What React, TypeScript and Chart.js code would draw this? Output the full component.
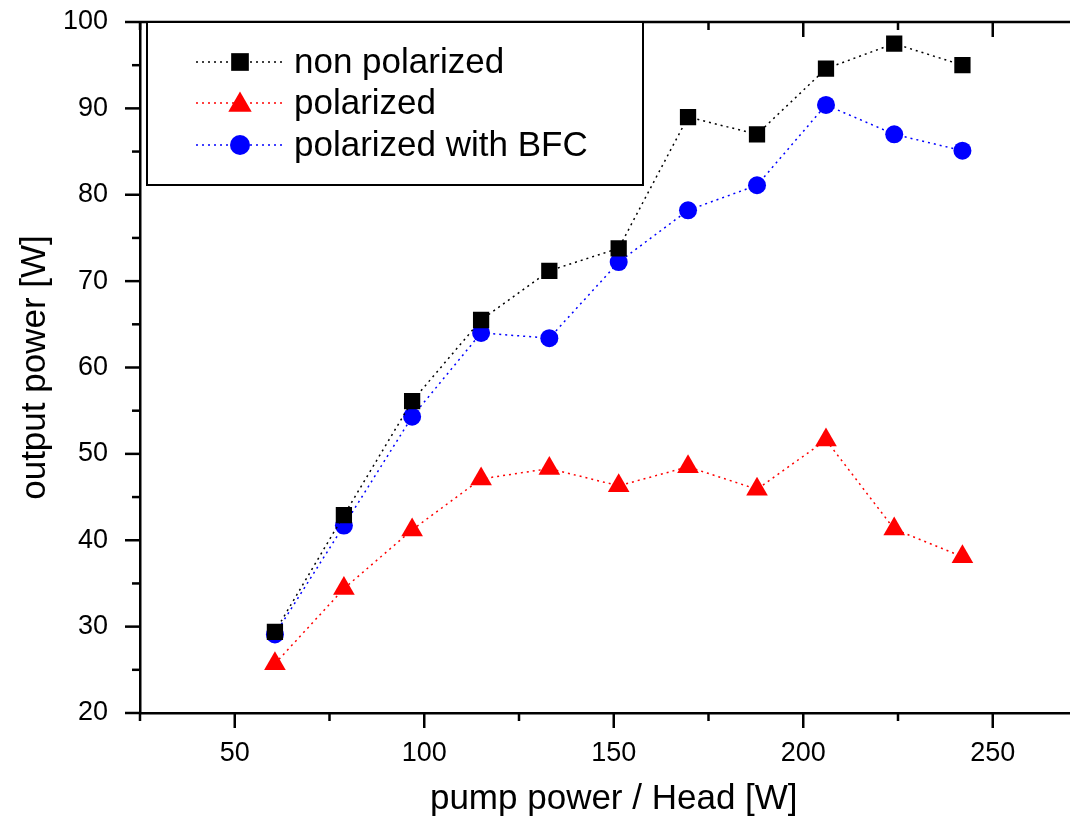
import React, { useEffect, useRef } from "react";
import { Chart, registerables } from "chart.js";
import { drawPoint } from "chart.js/helpers";

Chart.register(...registerables);

const pumpPower = [60.6, 78.8, 96.8, 115, 133, 151.3, 169.6, 187.8, 206, 224, 242];
const nonPolarized = [29.4, 42.9, 56.1, 65.5, 71.2, 73.8, 89.0, 87.0, 94.6, 97.5, 95.0];
const polarized = [25.7, 34.4, 41.2, 47.1, 48.3, 46.3, 48.5, 45.9, 51.6, 41.3, 38.1];
const polarizedBFC = [29.1, 41.7, 54.3, 64.0, 63.4, 72.2, 78.2, 81.1, 90.4, 87.0, 85.1];

const seriesLabels = ["non polarized", "polarized", "polarized with BFC"];
const xMajorTicks = [50, 100, 150, 200, 250];
const xMinorTicks = [25, 75, 125, 175, 225, 275];
const yMajorTicks = [20, 30, 40, 50, 60, 70, 80, 90, 100];
const yMinorTicks = [25, 35, 45, 55, 65, 75, 85, 95];

const FONT = "'Liberation Sans', Arial, Helvetica, sans-serif";

const axisDecor = {
  id: "axisDecor",
  afterDraw(chart: any) {
    const { ctx, chartArea } = chart;
    const xs = chart.scales.x;
    const ys = chart.scales.y;
    const { left, right, top, bottom } = chartArea;
    ctx.save();
    ctx.strokeStyle = "#000";
    ctx.lineWidth = 2.5;
    ctx.lineCap = "butt";
    ctx.beginPath();
    ctx.moveTo(left, top);
    ctx.lineTo(right, top);
    ctx.stroke();
    const tick = (x1: number, y1: number, x2: number, y2: number) => {
      ctx.beginPath();
      ctx.moveTo(x1, y1);
      ctx.lineTo(x2, y2);
      ctx.stroke();
    };
    xMajorTicks.forEach((v) => {
      const px = xs.getPixelForValue(v);
      tick(px, bottom, px, bottom + 15);
      tick(px, top, px, top + 15);
    });
    xMinorTicks.forEach((v) => {
      const px = xs.getPixelForValue(v);
      tick(px, bottom, px, bottom + 8);
      tick(px, top, px, top + 8);
    });
    yMajorTicks.forEach((v) => {
      const py = ys.getPixelForValue(v);
      tick(left, py, left - 15, py);
    });
    yMinorTicks.forEach((v) => {
      const py = ys.getPixelForValue(v);
      tick(left, py, left - 8, py);
    });
    ctx.restore();
  },
};

const legendBox = {
  id: "legendBox",
  afterDraw(chart: any) {
    const { ctx } = chart;
    const bx = 147, by = 22, bw = 496, bh = 163;
    ctx.save();
    ctx.fillStyle = "#fff";
    ctx.fillRect(bx, by, bw, bh);
    ctx.strokeStyle = "#000";
    ctx.lineWidth = 2;
    ctx.strokeRect(bx, by, bw, bh);
    const rows = [62, 103, 145];
    chart.data.datasets.forEach((ds: any, i: number) => {
      const y = rows[i];
      ctx.save();
      ctx.strokeStyle = ds.borderColor;
      ctx.lineWidth = 1.5;
      ctx.setLineDash([2, 4]);
      ctx.beginPath();
      ctx.moveTo(196, y);
      ctx.lineTo(284, y);
      ctx.stroke();
      ctx.restore();
      ctx.fillStyle = ds.pointBackgroundColor;
      ctx.strokeStyle = ds.pointBorderColor;
      drawPoint(
        ctx,
        { pointStyle: ds.pointStyle, radius: ds.pointRadius + 1, borderWidth: 0, rotation: 0 } as any,
        240,
        ds.pointStyle === "triangle" ? y + 2 : y
      );
      ctx.fillStyle = "#000";
      ctx.font = `35px ${FONT}`;
      ctx.textBaseline = "middle";
      ctx.textAlign = "left";
      ctx.fillText(ds.label, 294, y + 1);
    });
    ctx.restore();
  },
};

export default function App() {
  const ref = useRef<HTMLCanvasElement | null>(null);
  useEffect(() => {
    if (!ref.current) return;
    const mk = (vals: number[]) => pumpPower.map((x, i) => ({ x, y: vals[i] }));
    const common = {
      borderWidth: 1.5,
      borderDash: [2, 4],
      pointBorderWidth: 0,
      showLine: true,
      fill: false,
      tension: 0,
    };
    const chart = new Chart(ref.current, {
      type: "scatter",
      data: {
        datasets: [
          {
            ...common,
            label: seriesLabels[0],
            data: mk(nonPolarized),
            borderColor: "#000000",
            pointBackgroundColor: "#000000",
            pointBorderColor: "#000000",
            pointStyle: "rect",
            pointRadius: 11.5,
          },
          {
            ...common,
            label: seriesLabels[1],
            data: mk(polarized),
            borderColor: "#ff0000",
            pointBackgroundColor: "#ff0000",
            pointBorderColor: "#ff0000",
            pointStyle: "triangle",
            pointRadius: 12.5,
          },
          {
            ...common,
            label: seriesLabels[2],
            data: mk(polarizedBFC),
            borderColor: "#0000ff",
            pointBackgroundColor: "#0000ff",
            pointBorderColor: "#0000ff",
            pointStyle: "circle",
            pointRadius: 9,
          },
        ],
      },
      options: {
        animation: false,
        responsive: false,
        maintainAspectRatio: false,
        layout: { padding: { left: 0, right: 7, top: 22, bottom: 0 } },
        plugins: { legend: { display: false }, tooltip: { enabled: false } },
        scales: {
          x: {
            type: "linear",
            min: 25,
            max: 275,
            grid: { display: false },
            border: { display: true, color: "#000", width: 2.5 },
            afterFit: (s: any) => {
              s.height = 111;
              s.paddingLeft = 0;
              s.paddingRight = 0;
            },
            afterBuildTicks: (s: any) => {
              s.ticks = xMajorTicks.map((v) => ({ value: v }));
            },
            ticks: {
              color: "#000",
              padding: 16,
              maxRotation: 0,
              font: { family: FONT, size: 27 },
            },
            title: {
              display: true,
              text: "pump power / Head [W]",
              color: "#000",
              font: { family: FONT, size: 35, lineHeight: 1.2 },
              padding: { top: 0, bottom: 4 },
            },
          },
          y: {
            type: "linear",
            min: 20,
            max: 100,
            grid: { display: false },
            border: { display: true, color: "#000", width: 2.5 },
            afterFit: (s: any) => {
              s.width = 140;
              s.paddingTop = 0;
              s.paddingBottom = 0;
            },
            afterBuildTicks: (s: any) => {
              s.ticks = yMajorTicks.map((v) => ({ value: v }));
            },
            ticks: {
              color: "#000",
              padding: 24,
              font: { family: FONT, size: 27 },
            },
            title: {
              display: true,
              text: "output power [W]",
              color: "#000",
              font: { family: FONT, size: 35, lineHeight: 1.2 },
              padding: { top: 14, bottom: 0 },
            },
          },
        },
      },
      plugins: [axisDecor, legendBox],
    } as any);
    return () => chart.destroy();
  }, []);
  return (
    <div
      style={{
        position: "absolute",
        left: 0,
        top: 0,
        width: 1070,
        height: 824,
        overflow: "hidden",
        background: "#fff",
      }}
    >
      <canvas ref={ref} width={1100} height={824} style={{ display: "block", width: 1100, height: 824 }} />
    </div>
  );
}
